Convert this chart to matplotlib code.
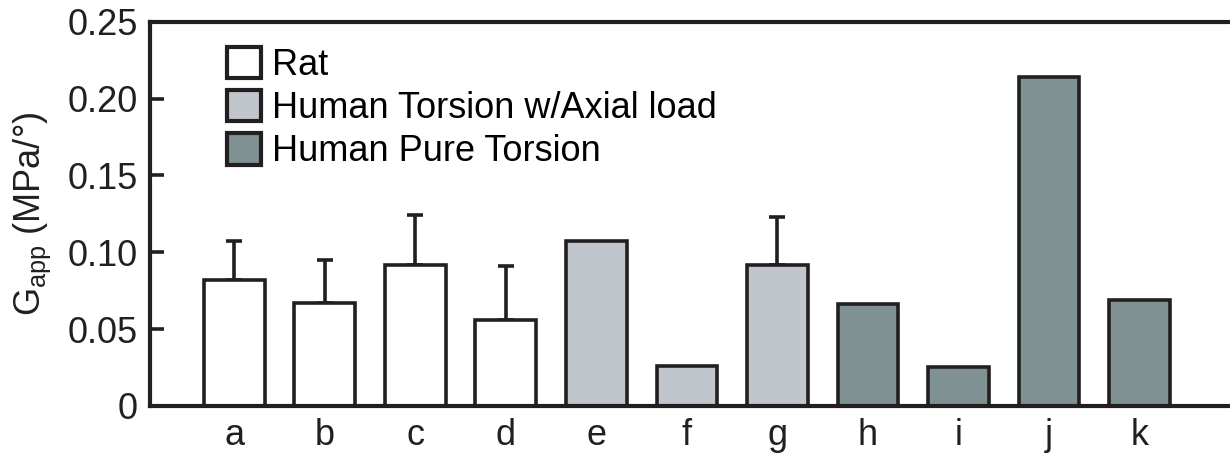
import numpy as np
import matplotlib
matplotlib.use("Agg")
import matplotlib.pyplot as plt
from matplotlib.patches import Patch

plt.rcParams['font.family'] = ['Liberation Sans', 'DejaVu Sans']

# data
labels = ["a", "b", "c", "d", "e", "f", "g", "h", "i", "j", "k"]
values = [0.082, 0.067, 0.092, 0.056, 0.107, 0.026, 0.092, 0.066, 0.0255, 0.214, 0.069]
err_up = [0.025, 0.028, 0.032, 0.035, 0, 0, 0.031, 0, 0, 0, 0]
groups = ["Rat", "Rat", "Rat", "Rat",
          "Human Torsion w/Axial load", "Human Torsion w/Axial load", "Human Torsion w/Axial load",
          "Human Pure Torsion", "Human Pure Torsion", "Human Pure Torsion", "Human Pure Torsion"]
group_names = ["Rat", "Human Torsion w/Axial load", "Human Pure Torsion"]
group_colors = {"Rat": "#ffffff",
                "Human Torsion w/Axial load": "#c1c5cc",
                "Human Pure Torsion": "#7f9193"}

edge = "#231f20"
fs = 26

fig = plt.figure(figsize=(12.3, 4.53), dpi=100)
ax = fig.add_axes([0.122, 0.104, 0.878, 0.848])

x = np.arange(len(labels))
ax.bar(x, values, width=0.67, color=[group_colors[g] for g in groups],
       edgecolor=edge, linewidth=2.6, zorder=2)

# upward error bars only where there is one
mask = np.array(err_up) > 0
xe = x[mask]
ye = np.array(values)[mask]
ee = np.array(err_up)[mask]
ax.errorbar(xe, ye, yerr=[np.zeros_like(ee), ee], fmt="none", ecolor=edge,
            elinewidth=2.6, capsize=6, capthick=2.6, zorder=1)

ax.set_xlim(-0.93, 11.0)
ax.set_ylim(0, 0.25)
ax.set_yticks([0, 0.05, 0.10, 0.15, 0.20, 0.25])
ax.set_yticklabels(["0", "0.05", "0.10", "0.15", "0.20", "0.25"])
ax.set_xticks(x)
ax.set_xticklabels(labels)

ax.tick_params(axis="y", direction="in", length=10, width=2.6, color=edge,
               labelsize=fs, pad=9, labelcolor="#231f20")
ax.tick_params(axis="x", length=0, labelsize=fs, pad=9, labelcolor="#231f20")

for s in ["left", "bottom", "top"]:
    ax.spines[s].set_linewidth(3.0)
    ax.spines[s].set_color(edge)
ax.spines["right"].set_visible(False)

ax.set_ylabel(r"$\mathregular{G_{app}}$ (MPa/°)", fontsize=fs, color="#231f20", labelpad=10)

handles = [Patch(facecolor=group_colors[g], edgecolor=edge, linewidth=3.0) for g in group_names]
ax.legend(handles, group_names, loc="upper left", bbox_to_anchor=(0.048, 1.0),
          frameon=False, fontsize=fs, handlelength=0.95, handleheight=0.95,
          handletextpad=0.3, labelspacing=0.2, borderaxespad=0.3)

fig.savefig("out.png", dpi=100)
